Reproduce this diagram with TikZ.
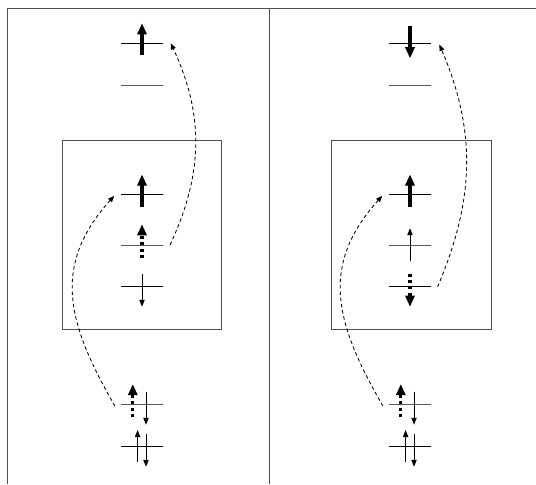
\documentclass[tikz,border=0pt]{standalone}
\usepackage{tikz}
\usetikzlibrary{arrows.meta, positioning}
\definecolor{framegray}{RGB}{80,80,80}
\tikzset{
  level/.style={draw, line width=0.7pt, minimum width=1.05cm, minimum height=0pt,
    inner sep=0pt, outer sep=0pt},
  spinbig/.style={line width=2.2pt, -{Triangle[length=8pt,width=6.5pt]}},
  spinsmall/.style={line width=0.7pt, -{Triangle[length=5pt,width=3.8pt]}},
  spinghost/.style={spinbig, dash pattern=on 2.2pt off 2.2pt},
  hop/.style={line width=0.6pt, dash pattern=on 2.5pt off 2pt,
    -{Triangle[length=4.5pt,width=3.5pt]}},
  panel/.style={draw=framegray, line width=0.7pt}
}

\begin{document}
\begin{tikzpicture}
  \useasboundingbox (0,0) rectangle (13.4,12.1);
  % frame and the two boxes
  \draw[panel] (0.175,0) -- (0.175,11.875) -- (13.4,11.875);
  \draw[panel] (6.725,0) -- (6.725,11.875);
  \draw[panel] (1.55,3.875) rectangle (5.54,8.6);
  \draw[panel] (8.275,3.875) rectangle (12.29,8.6);

  % levels
  \foreach \p/\x in {a/3.55, b/10.25}{
    \node[level] (\p-top) at (\x,11.02) {};
    \node[level] (\p-empty) at (\x,9.975) {};
    \node[level] (\p-one) at (\x,7.24) {};
    \node[level] (\p-two) at (\x,5.975) {};
    \node[level] (\p-three) at (\x,4.93) {};
    \node[level] (\p-low) at (\x,2.0) {};
    \node[level] (\p-core) at (\x,0.93) {};
  }

  % spins, left panel
  \draw[spinbig] ([yshift=-0.3cm]a-top.center) -- ([yshift=0.5cm]a-top.center);
  \draw[spinbig] ([yshift=-0.31cm]a-one.center) -- ([yshift=0.5cm]a-one.center);
  \draw[spinghost] ([yshift=-0.32cm]a-two.center) -- ([yshift=0.52cm]a-two.center);
  \draw[spinsmall] ([yshift=0.32cm]a-three.center) -- ([yshift=-0.5cm]a-three.center);

  % spins, right panel
  \draw[spinbig] ([yshift=0.42cm]b-top.center) -- ([yshift=-0.38cm]b-top.center);
  \draw[spinbig] ([yshift=-0.31cm]b-one.center) -- ([yshift=0.5cm]b-one.center);
  \draw[spinsmall] ([yshift=-0.39cm]b-two.center) -- ([yshift=0.42cm]b-two.center);
  \draw[spinghost] ([yshift=0.32cm]b-three.center) -- ([yshift=-0.5cm]b-three.center);

  % core levels, both panels
  \foreach \p in {a,b}{
    \draw[spinghost] ([xshift=-0.23cm,yshift=-0.32cm]\p-low.center) -- ([xshift=-0.23cm,yshift=0.5cm]\p-low.center);
    \draw[spinsmall] ([xshift=0.1cm,yshift=0.31cm]\p-low.center) -- ([xshift=0.1cm,yshift=-0.52cm]\p-low.center);
    \draw[spinsmall] ([xshift=-0.11cm,yshift=-0.375cm]\p-core.center) -- ([xshift=-0.11cm,yshift=0.42cm]\p-core.center);
    \draw[spinsmall] ([xshift=0.1cm,yshift=0.33cm]\p-core.center) -- ([xshift=0.1cm,yshift=-0.5cm]\p-core.center);
    \draw[hop] ([xshift=-4.3pt,yshift=-1.5pt]\p-low.west) to[out=120,in=228,looseness=1.15] ([xshift=-4.8pt,yshift=-1pt]\p-one.west);
  }

  % upward hops
  \draw[hop] ([xshift=5pt]a-two.east) to[out=65,in=-65] ([xshift=5.5pt]a-top.east);
  \draw[hop] ([xshift=4.7pt]b-three.east) to[out=67,in=-67] ([xshift=6pt,yshift=-1pt]b-top.east);
\end{tikzpicture}
\end{document}
